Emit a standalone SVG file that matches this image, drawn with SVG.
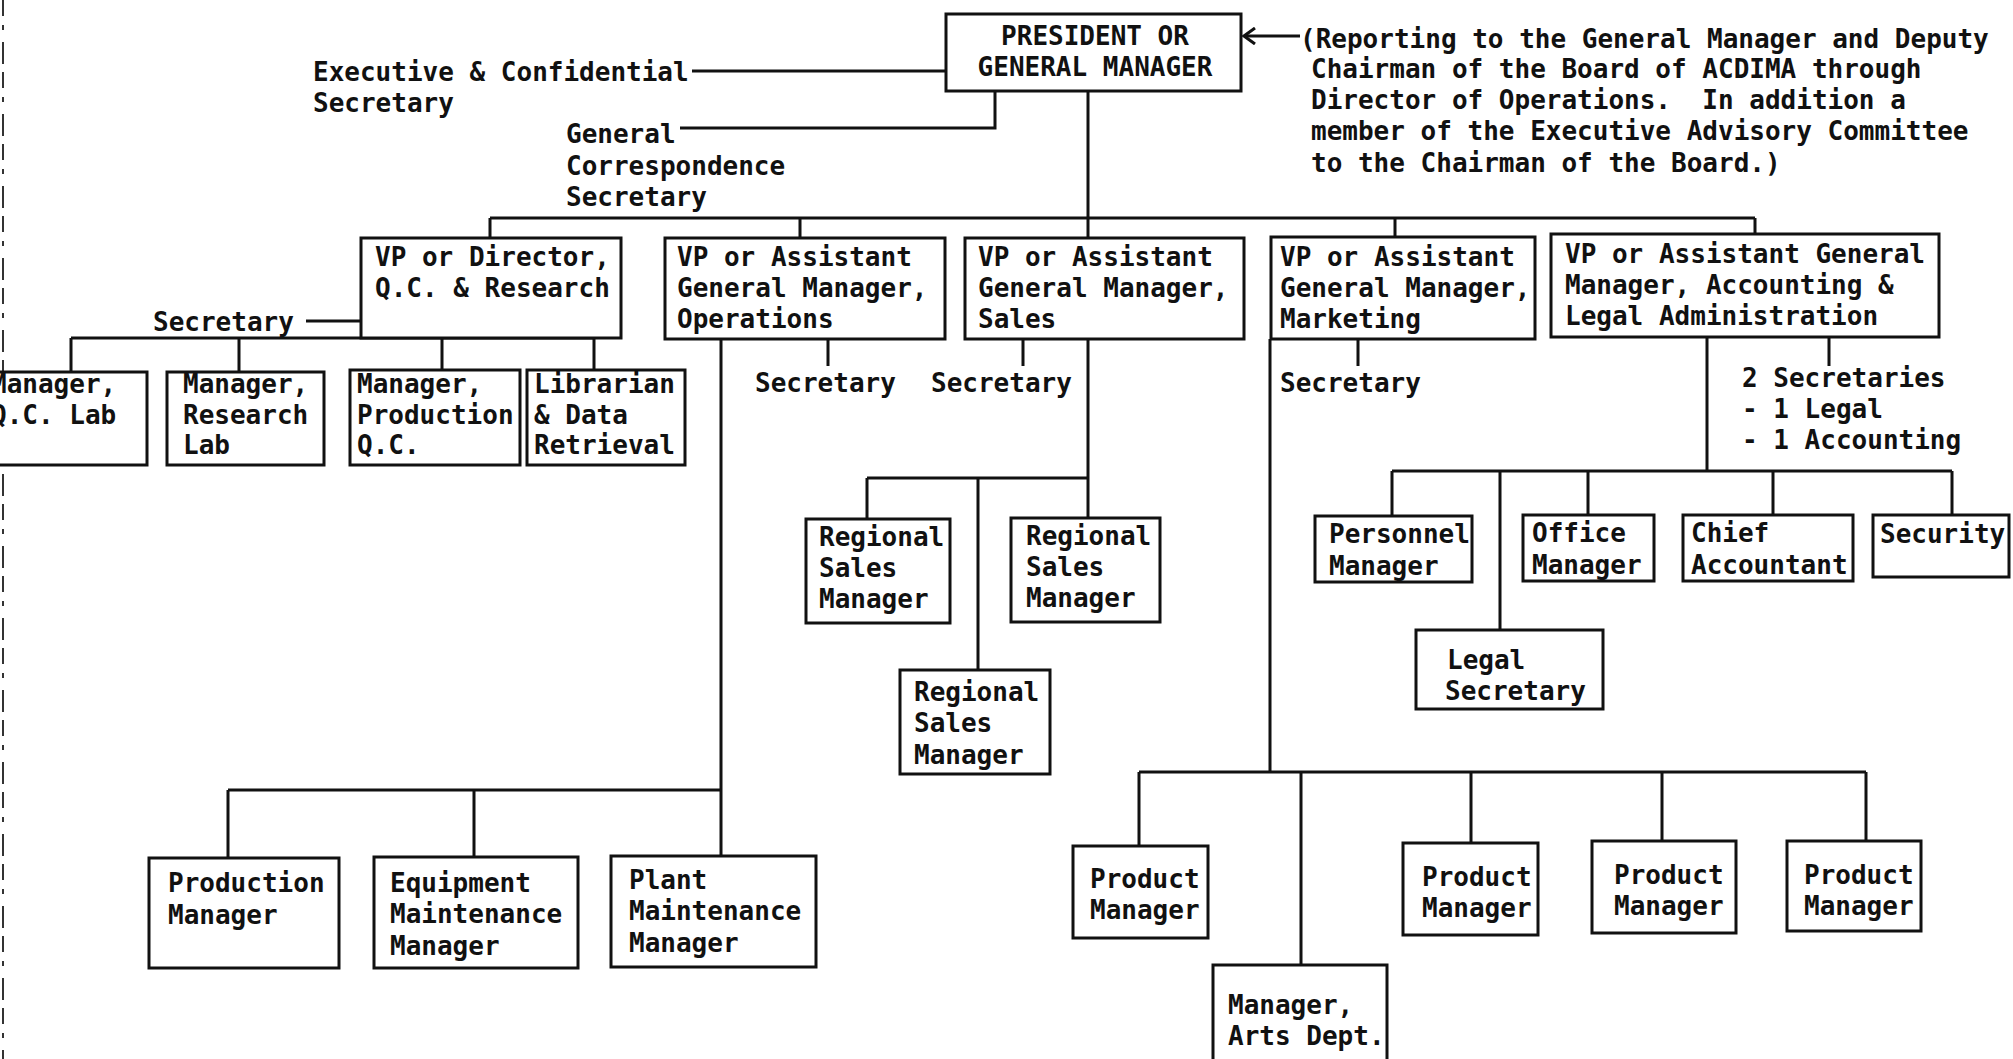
<svg xmlns="http://www.w3.org/2000/svg" width="2013" height="1059" viewBox="0 0 2013 1059">
<defs>
<style>
.box{fill:#fff;stroke:#111;stroke-width:3}
.ln{fill:none;stroke:#111;stroke-width:3}
text{font-family:"DejaVu Sans Mono","Liberation Mono",monospace;font-size:26px;font-weight:bold;fill:#111;white-space:pre}
</style>
<marker id="arr" viewBox="0 0 14 18" refX="12" refY="9" markerWidth="14" markerHeight="18" markerUnits="userSpaceOnUse" orient="auto">
<path d="M1,1 L12,9 L1,17" fill="none" stroke="#111" stroke-width="3"/>
</marker>
</defs>
<rect width="2013" height="1059" fill="#fff"/>
<path d="M3,0 V1059" stroke="#333" stroke-width="2" stroke-dasharray="16 9 5 12 22 8"/>

<g id="connectors">
<path class="ln" d="M692,71 H946"/>
<path class="ln" d="M680,128 H995 V91"/>
<path class="ln" d="M1300,36 H1244" marker-end="url(#arr)"/>
<path class="ln" d="M1088,91 V239"/>
<path class="ln" d="M490,218 H1755"/>
<path class="ln" d="M490,218 V238 M800,218 V238 M1395,218 V237 M1755,218 V234"/>
<path class="ln" d="M306,321 H361"/>
<path class="ln" d="M71,338 H594 M71,338 V372 M239,338 V372 M442,338 V370 M594,338 V370"/>
<path class="ln" d="M828,339 V366 M1023,339 V366"/>
<path class="ln" d="M721,339 V856"/>
<path class="ln" d="M228,790 H721 M228,790 V858 M474,790 V857"/>
<path class="ln" d="M1088,339 V518"/>
<path class="ln" d="M867,478 H1088 M867,478 V519 M978,478 V670"/>
<path class="ln" d="M1270,339 V772 M1358,339 V366"/>
<path class="ln" d="M1139,772 H1866 M1139,772 V846 M1301,772 V965 M1471,772 V843 M1662,772 V841 M1866,772 V841"/>
<path class="ln" d="M1707,337 V471 M1829,337 V366"/>
<path class="ln" d="M1392,471 H1952 M1392,471 V516 M1500,471 V630 M1588,471 V515 M1773,471 V515 M1952,471 V515"/>
</g>

<g id="president">
<rect class="box" x="946" y="14" width="295" height="77"/>
<text x="1095" y="45" text-anchor="middle">PRESIDENT OR</text>
<text x="1095" y="76" text-anchor="middle">GENERAL MANAGER</text>
</g>
<g id="note">
<text x="1300" y="48">(Reporting to the General Manager and Deputy</text>
<text x="1311" y="78">Chairman of the Board of ACDIMA through</text>
<text x="1311" y="109">Director of Operations.  In addition a</text>
<text x="1311" y="140">member of the Executive Advisory Committee</text>
<text x="1311" y="172">to the Chairman of the Board.)</text>
</g>
<g id="exec-secretary">
<text x="313" y="81">Executive &amp; Confidential</text>
<text x="313" y="112">Secretary</text>
</g>
<g id="general-secretary">
<text x="566" y="143">General</text>
<text x="566" y="175">Correspondence</text>
<text x="566" y="206">Secretary</text>
</g>

<g id="vp-qc">
<rect class="box" x="361" y="238" width="260" height="100"/>
<text x="375" y="266">VP or Director,</text>
<text x="375" y="297">Q.C. &amp; Research</text>
</g>
<g id="qc-secretary"><text x="153" y="331">Secretary</text></g>
<g id="vp-ops">
<rect class="box" x="665" y="238" width="280" height="101"/>
<text x="677" y="266">VP or Assistant</text>
<text x="677" y="297">General Manager,</text>
<text x="677" y="328">Operations</text>
</g>
<g id="ops-secretary"><text x="755" y="392">Secretary</text></g>
<g id="vp-sales">
<rect class="box" x="965" y="238" width="279" height="101"/>
<text x="978" y="266">VP or Assistant</text>
<text x="978" y="297">General Manager,</text>
<text x="978" y="328">Sales</text>
</g>
<g id="sales-secretary"><text x="931" y="392">Secretary</text></g>
<g id="vp-marketing">
<rect class="box" x="1271" y="237" width="264" height="102"/>
<text x="1280" y="266">VP or Assistant</text>
<text x="1280" y="297">General Manager,</text>
<text x="1280" y="328">Marketing</text>
</g>
<g id="mkt-secretary"><text x="1280" y="392">Secretary</text></g>
<g id="vp-accounting">
<rect class="box" x="1551" y="234" width="388" height="103"/>
<text x="1565" y="263">VP or Assistant General</text>
<text x="1565" y="294">Manager, Accounting &amp;</text>
<text x="1565" y="325">Legal Administration</text>
</g>
<g id="acct-secretaries">
<text x="1742" y="387">2 Secretaries</text>
<text x="1742" y="418">- 1 Legal</text>
<text x="1742" y="449">- 1 Accounting</text>
</g>

<g id="qc-lab">
<rect class="box" x="-10" y="372" width="157" height="93"/>
<text x="-9" y="393">Manager,</text>
<text x="-9" y="424">Q.C. Lab</text>
</g>
<g id="research-lab">
<rect class="box" x="167" y="372" width="157" height="93"/>
<text x="183" y="393">Manager,</text>
<text x="183" y="424">Research</text>
<text x="183" y="454">Lab</text>
</g>
<g id="production-qc">
<rect class="box" x="350" y="370" width="170" height="95"/>
<text x="357" y="393">Manager,</text>
<text x="357" y="424">Production</text>
<text x="357" y="454">Q.C.</text>
</g>
<g id="librarian">
<rect class="box" x="527" y="370" width="158" height="95"/>
<text x="534" y="393">Librarian</text>
<text x="534" y="424">&amp; Data</text>
<text x="534" y="454">Retrieval</text>
</g>

<g id="production-manager">
<rect class="box" x="149" y="858" width="190" height="110"/>
<text x="168" y="892">Production</text>
<text x="168" y="924">Manager</text>
</g>
<g id="equipment-maintenance">
<rect class="box" x="374" y="857" width="204" height="111"/>
<text x="390" y="892">Equipment</text>
<text x="390" y="923">Maintenance</text>
<text x="390" y="955">Manager</text>
</g>
<g id="plant-maintenance">
<rect class="box" x="611" y="856" width="205" height="111"/>
<text x="629" y="889">Plant</text>
<text x="629" y="920">Maintenance</text>
<text x="629" y="952">Manager</text>
</g>

<g id="regional-1">
<rect class="box" x="806" y="519" width="144" height="104"/>
<text x="819" y="546">Regional</text>
<text x="819" y="577">Sales</text>
<text x="819" y="608">Manager</text>
</g>
<g id="regional-2">
<rect class="box" x="1011" y="518" width="149" height="104"/>
<text x="1026" y="545">Regional</text>
<text x="1026" y="576">Sales</text>
<text x="1026" y="607">Manager</text>
</g>
<g id="regional-3">
<rect class="box" x="900" y="670" width="150" height="104"/>
<text x="914" y="701">Regional</text>
<text x="914" y="732">Sales</text>
<text x="914" y="764">Manager</text>
</g>

<g id="product-1">
<rect class="box" x="1073" y="846" width="135" height="92"/>
<text x="1090" y="888">Product</text>
<text x="1090" y="919">Manager</text>
</g>
<g id="arts-dept">
<rect class="box" x="1213" y="965" width="174" height="100"/>
<text x="1228" y="1014">Manager,</text>
<text x="1228" y="1045">Arts Dept.</text>
</g>
<g id="product-2">
<rect class="box" x="1403" y="843" width="135" height="92"/>
<text x="1422" y="886">Product</text>
<text x="1422" y="917">Manager</text>
</g>
<g id="product-3">
<rect class="box" x="1592" y="841" width="144" height="92"/>
<text x="1614" y="884">Product</text>
<text x="1614" y="915">Manager</text>
</g>
<g id="product-4">
<rect class="box" x="1787" y="841" width="134" height="90"/>
<text x="1804" y="884">Product</text>
<text x="1804" y="915">Manager</text>
</g>

<g id="personnel">
<rect class="box" x="1315" y="516" width="157" height="66"/>
<text x="1329" y="543">Personnel</text>
<text x="1329" y="575">Manager</text>
</g>
<g id="office">
<rect class="box" x="1523" y="515" width="131" height="66"/>
<text x="1532" y="542">Office</text>
<text x="1532" y="574">Manager</text>
</g>
<g id="chief-accountant">
<rect class="box" x="1683" y="515" width="170" height="66"/>
<text x="1691" y="542">Chief</text>
<text x="1691" y="574">Accountant</text>
</g>
<g id="security">
<rect class="box" x="1873" y="515" width="136" height="62"/>
<text x="1880" y="543">Security</text>
</g>
<g id="legal-secretary">
<rect class="box" x="1416" y="630" width="187" height="79"/>
<text x="1447" y="669">Legal</text>
<text x="1445" y="700">Secretary</text>
</g>
</svg>
